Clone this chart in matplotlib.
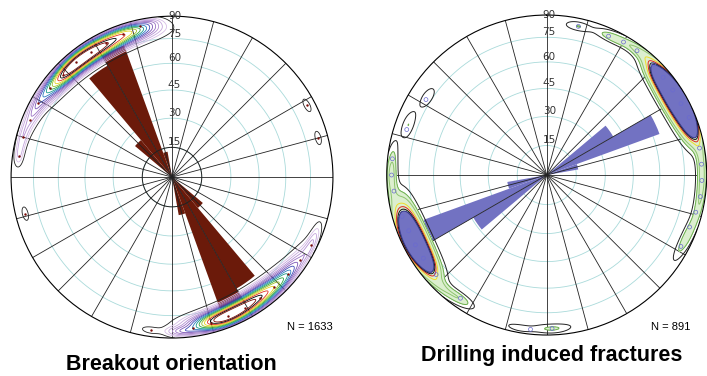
import numpy as np
import matplotlib.pyplot as plt
from matplotlib.transforms import offset_copy

# rose diagrams: start azimuth of each 10-degree bin and bar length (fraction of net radius)
bo_bins = [130, 140, 150, 160, 310, 320, 330, 340]
bo_len = [0.25, 0.80, 0.87, 0.24, 0.30, 0.80, 0.87, 0.16]
dif_bins = [50, 60, 70, 230, 240, 250]
dif_len = [0.48, 0.75, 0.20, 0.53, 0.85, 0.25]

dip_ticks = [15, 30, 45, 60, 75, 90]

# pole concentrations: azimuth, radius, azimuth spread, radial spread, weight
bo_az = [330, 316, 300, 284, 345, 352, 150, 162, 132, 116, 176, 62, 75, 256, 278, 188]
bo_r = [0.92, 0.925, 0.95, 0.96, 0.945, 0.97, 0.92, 0.935, 0.94, 0.96, 0.96, 0.95, 0.94, 0.94, 0.96, 0.96]
bo_saz = [11, 8, 8, 5, 6, 2.5, 11, 7, 8, 5, 4, 2.2, 2.2, 2.2, 2.5, 2.5]
bo_sr = [0.04, 0.035, 0.028, 0.02, 0.03, 0.015, 0.04, 0.035, 0.03, 0.02, 0.02, 0.015, 0.015, 0.015, 0.018, 0.015]
bo_w = [1.0, 0.7, 0.25, 0.12, 0.35, 0.06, 1.0, 0.6, 0.3, 0.15, 0.2, 0.06, 0.06, 0.06, 0.06, 0.06]

dif_az = [60, 51, 69, 40, 90, 25, 115, 245, 237, 270, 225, 215, 290, 303, 12, 178, 190]
dif_r = [0.935, 0.94, 0.95, 0.965, 0.97, 0.95, 0.95, 0.925, 0.93, 0.97, 0.96, 0.94, 0.92, 0.89, 0.95, 0.96, 0.97]
dif_saz = [8, 5, 5, 9, 16, 4, 5, 8, 5, 7, 7, 4, 4, 3.5, 3.5, 5, 3.5]
dif_sr = [0.045, 0.03, 0.03, 0.025, 0.022, 0.02, 0.02, 0.045, 0.03, 0.022, 0.025, 0.022, 0.025, 0.025, 0.02, 0.02, 0.015]
dif_w = [1.0, 0.5, 0.5, 0.15, 0.15, 0.08, 0.08, 1.0, 0.5, 0.15, 0.12, 0.08, 0.07, 0.06, 0.07, 0.08, 0.06]

# individual poles marked on the nets
bo_pts_az = [285, 292, 299, 306, 313, 320, 327, 334, 341, 348, 62, 75, 256, 278, 188,
             116, 123, 130, 137, 144, 151, 158, 165, 172]
bo_pts_r = [0.96, 0.95, 0.95, 0.94, 0.93, 0.93, 0.93, 0.93, 0.94, 0.96, 0.95, 0.94, 0.94, 0.96, 0.96,
            0.96, 0.95, 0.94, 0.93, 0.93, 0.93, 0.93, 0.94, 0.95]
dif_pts_az = [12, 24, 30, 36, 44, 50, 56, 62, 68, 80, 86, 92, 98, 104, 110, 118,
              178, 186, 215, 228, 236, 242, 248, 254, 264, 270, 276, 288, 302]
dif_pts_r = [0.95, 0.95, 0.96, 0.96, 0.96, 0.95, 0.95, 0.95, 0.96, 0.97, 0.97, 0.97, 0.97, 0.96, 0.95, 0.95,
             0.96, 0.97, 0.94, 0.93, 0.93, 0.93, 0.93, 0.94, 0.96, 0.97, 0.97, 0.92, 0.89]


def equal_area(d):
    return np.sqrt(2) * np.sin(np.radians(d) / 2)


def density(th, rr, az, r, saz, sr, w):
    d = np.zeros_like(th)
    for a, rc, sa, s, wt in zip(az, r, saz, sr, w):
        da = (np.degrees(th) - a + 180) % 360 - 180
        d += wt * np.exp(-0.5 * ((da / sa) ** 2 + ((rr - rc) / s) ** 2))
    return d


def draw_net(ax, bins, lens, color, inner_circle=False):
    ax.set_theta_zero_location("N")
    ax.set_theta_direction(-1)
    ax.set_ylim(0, 1)
    ax.grid(False)
    ax.set_xticks([])
    ax.set_yticks([])
    ax.spines["polar"].set_linewidth(0.8)
    ax.spines["polar"].set_zorder(8)
    t = np.linspace(0, 2 * np.pi, 361)
    for d in dip_ticks[:-1]:
        ax.plot(t, np.full_like(t, equal_area(d)), color="#a9dada", lw=0.6, zorder=1)
    ax.bar(np.radians(bins), lens, width=np.radians(10), align="edge", color=color, lw=0, zorder=2)
    for a in range(0, 360, 15):
        ax.plot([np.radians(a)] * 2, [0, 1], color="#222222", lw=0.6, zorder=3)
    if inner_circle:
        ax.plot(t, np.full_like(t, 0.185), color="#222222", lw=0.7, zorder=3)
    tr = offset_copy(ax.transData, fig=ax.figure, x=2.5, y=0, units="dots")
    for d in dip_ticks:
        va = "center" if d == 90 else "bottom"
        ax.text(0, equal_area(d), str(d), transform=tr, ha="center", va=va,
                fontsize=7.5, color="#333333", zorder=9)


fig = plt.figure(figsize=(7.07, 3.76), dpi=100)
ax1 = fig.add_axes([0.0156, 0.101, 0.4554, 0.856], projection="polar")
ax2 = fig.add_axes([0.547, 0.109, 0.4526, 0.851], projection="polar")

th, rr = np.meshgrid(np.linspace(0, 2 * np.pi, 1081), np.linspace(0, 1, 401))

# breakouts
draw_net(ax1, bo_bins, bo_len, "#6b1a0a", inner_circle=True)
d1 = density(th, rr, bo_az, bo_r, bo_saz, bo_sr, bo_w)
lev1 = [0.03, 0.07, 0.11, 0.16, 0.21, 0.27, 0.33, 0.40, 0.47, 0.55, 0.63, 0.72, 0.82, 0.92, 1.02]
col1 = ["#222222", "#d7bfe6", "#c5a6dc", "#b38ed2", "#9b72c4", "#7c56b6", "#3f4ab8",
        "#2a7cc0", "#1a9a8a", "#2ea33c", "#9cc22a", "#e5d21e", "#e0301e", "#000000", "#7a0c08"]
ax1.contour(th, rr, d1, levels=lev1, colors=col1, linewidths=0.6, zorder=5)
ax1.scatter(np.radians(bo_pts_az), bo_pts_r, s=3, color="#7a0c08", zorder=6, lw=0)

# drilling induced fractures
draw_net(ax2, dif_bins, dif_len, "#7272c2")
d2 = density(th, rr, dif_az, dif_r, dif_saz, dif_sr, dif_w)
ax2.contourf(th, rr, d2, levels=[0.07, 0.40, 10], colors=["#dcefcf", "#7272c2"], zorder=4)
lev2 = [0.03, 0.07, 0.12, 0.22, 0.29, 0.35, 0.40]
col2 = ["#222222", "#6cb04e", "#8fc46e", "#eedd2a", "#e02a1e", "#111111", "#3a3a8a"]
ax2.contour(th, rr, d2, levels=lev2, colors=col2, linewidths=0.7, zorder=5)
ax2.scatter(np.radians(dif_pts_az), dif_pts_r, s=8, facecolors="none", edgecolors="#6a6ad0",
            lw=0.5, zorder=6)

fig.text(310 / 707, 1 - 327 / 376, "N = 1633", ha="center", va="center", fontsize=8, family="Liberation Sans")
fig.text(671 / 707, 1 - 327 / 376, "N = 891", ha="center", va="center", fontsize=8, family="Liberation Sans")
fig.text(171 / 707, 1 - 365 / 376, "Breakout orientation", ha="center", va="center",
         fontsize=15.5, weight="bold", family="Liberation Sans")
fig.text(552 / 707, 1 - 356 / 376, "Drilling induced fractures", ha="center", va="center",
         fontsize=15.5, weight="bold", family="Liberation Sans")

fig.savefig("out.png", dpi=100)
